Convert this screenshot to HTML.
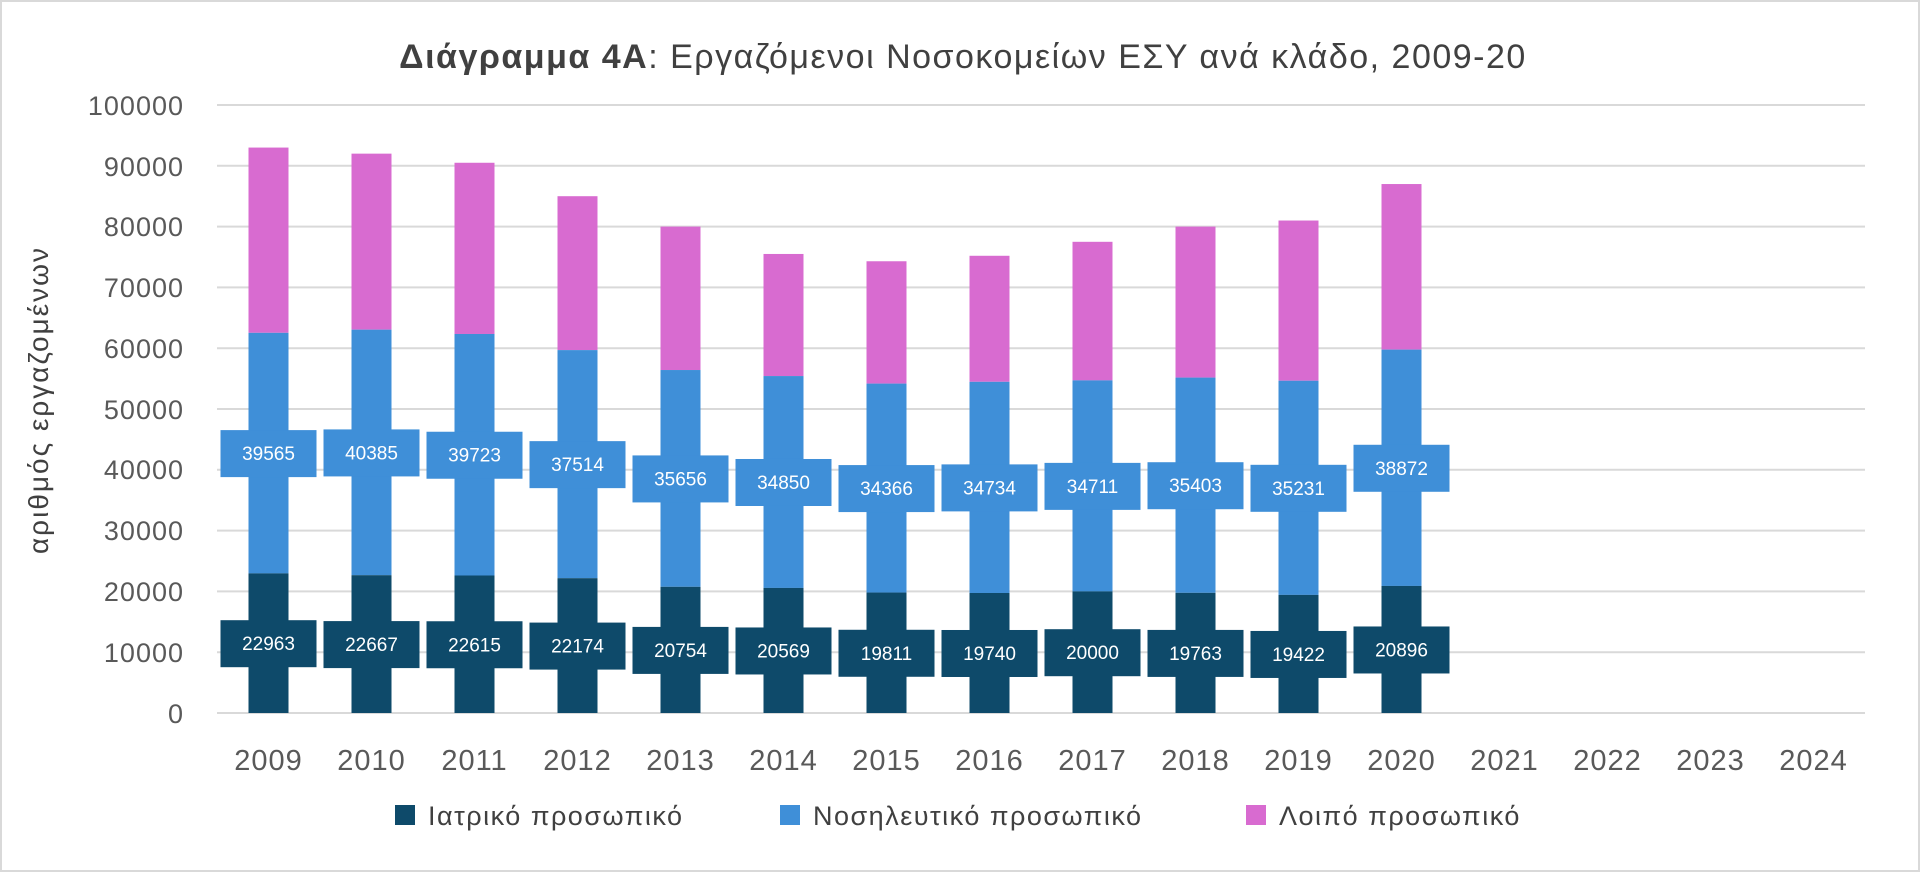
<!DOCTYPE html>
<html><head><meta charset="utf-8"><style>
html,body{margin:0;padding:0;background:#fff;}
svg{display:block;}
text{font-family:"Liberation Sans","DejaVu Sans",sans-serif;}
</style></head><body>
<svg width="1920" height="872" viewBox="0 0 1920 872" xmlns="http://www.w3.org/2000/svg">
<rect x="1" y="1" width="1918" height="870" fill="#fff" stroke="#d9d9d9" stroke-width="2"/>
<text x="963" y="68" text-anchor="middle" font-size="34" letter-spacing="1.5" fill="#404040"><tspan font-weight="bold">Διάγραμμα 4Α</tspan>: Εργαζόμενοι Νοσοκομείων ΕΣΥ ανά κλάδο, 2009-20</text>
<g stroke="#d9d9d9" stroke-width="2">
<line x1="217" x2="1865" y1="713" y2="713"/><line x1="217" x2="1865" y1="652.2" y2="652.2"/><line x1="217" x2="1865" y1="591.4" y2="591.4"/><line x1="217" x2="1865" y1="530.6" y2="530.6"/><line x1="217" x2="1865" y1="469.8" y2="469.8"/><line x1="217" x2="1865" y1="409" y2="409"/><line x1="217" x2="1865" y1="348.2" y2="348.2"/><line x1="217" x2="1865" y1="287.4" y2="287.4"/><line x1="217" x2="1865" y1="226.6" y2="226.6"/><line x1="217" x2="1865" y1="165.8" y2="165.8"/><line x1="217" x2="1865" y1="105" y2="105"/>
</g>
<g font-size="27" letter-spacing="1" fill="#595959" text-anchor="end">
<text x="184" y="723">0</text><text x="184" y="662">10000</text><text x="184" y="601">20000</text><text x="184" y="540">30000</text><text x="184" y="479">40000</text><text x="184" y="419">50000</text><text x="184" y="358">60000</text><text x="184" y="297">70000</text><text x="184" y="236">80000</text><text x="184" y="176">90000</text><text x="184" y="115">100000</text>
</g>
<text transform="translate(48,400) rotate(-90)" text-anchor="middle" font-size="28" letter-spacing="2" fill="#404040">αριθμός εργαζομένων</text>
<g id="bars"></g>
<g font-size="29" letter-spacing="1" fill="#595959" text-anchor="middle" id="years"></g>
<rect x="395" y="805" width="20" height="20" fill="#0e4a6a"/>
<text x="428" y="825" font-size="27" letter-spacing="1.5" fill="#404040">Ιατρικό προσωπικό</text>
<rect x="780" y="805" width="20" height="20" fill="#3f8fd8"/>
<text x="813" y="825" font-size="27" letter-spacing="1.5" fill="#404040">Νοσηλευτικό προσωπικό</text>
<rect x="1246" y="805" width="20" height="20" fill="#d86bd0"/>
<text x="1279" y="825" font-size="27" letter-spacing="1.5" fill="#404040">Λοιπό προσωπικό</text>
</svg>
<script>
var d=[22963,22667,22615,22174,20754,20569,19811,19740,20000,19763,19422,20896];
var n=[39565,40385,39723,37514,35656,34850,34366,34734,34711,35403,35231,38872];
var t=[93000,92000,90500,85000,80000,75500,74300,75200,77500,80000,81000,87000];
var s=0.00608,b=713,ns="http://www.w3.org/2000/svg";
var g=document.getElementById('bars'),yg=document.getElementById('years');
function el(p,tag,a,txt){var e=document.createElementNS(ns,tag);for(var k in a)e.setAttribute(k,a[k]);if(txt)e.textContent=txt;p.appendChild(e);return e;}
for(var i=0;i<16;i++){var cx=217+103*(i+0.5);el(yg,'text',{x:cx,y:770},String(2009+i));}
for(var i=0;i<12;i++){
 var cx=217+103*(i+0.5),w=40,x=cx-w/2;
 var y1=b-d[i]*s,y2=b-(d[i]+n[i])*s,y3=b-t[i]*s;
 el(g,'rect',{x:x,y:y3,width:w,height:y2-y3,fill:'#d86bd0'});
 el(g,'rect',{x:x,y:y2,width:w,height:y1-y2,fill:'#3f8fd8'});
 el(g,'rect',{x:x,y:y1,width:w,height:b-y1,fill:'#0e4a6a'});
 var m1=(b+y1)/2,m2=(y1+y2)/2;
 el(g,'rect',{x:cx-48,y:m1-23,width:96,height:47,fill:'#0e4a6a'});
 el(g,'text',{x:cx,y:m1+7,'text-anchor':'middle','font-size':19,fill:'#fff'},String(d[i]));
 el(g,'rect',{x:cx-48,y:m2-23,width:96,height:47,fill:'#3f8fd8'});
 el(g,'text',{x:cx,y:m2+7,'text-anchor':'middle','font-size':19,fill:'#fff'},String(n[i]));
}
</script>
</body></html>
